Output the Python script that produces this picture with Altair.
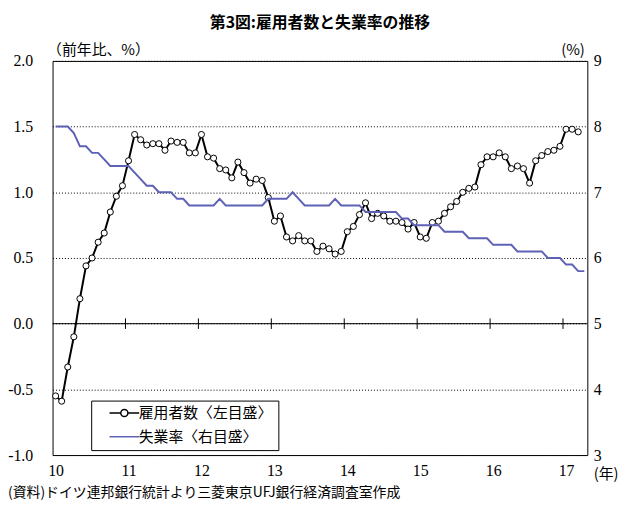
import json
import altair as alt
import pandas as pd

# ---------------- data ----------------
years = ["10", "11", "12", "13", "14", "15", "16", "17"]
year_unit = "(年)"

employment = [
    -0.55, -0.59, -0.33, -0.10, 0.19, 0.44, 0.50, 0.62, 0.69, 0.85, 0.97, 1.05,
    1.24, 1.44, 1.40, 1.36, 1.37, 1.37, 1.32, 1.39, 1.38, 1.38, 1.30, 1.30,
    1.44, 1.27, 1.26, 1.18, 1.17, 1.11, 1.23, 1.15, 1.07, 1.10, 1.09, 0.96,
    0.78, 0.82, 0.66, 0.63, 0.67, 0.63, 0.63, 0.55, 0.59, 0.57, 0.53, 0.55,
    0.70, 0.74, 0.83, 0.92, 0.80, 0.84, 0.82, 0.78, 0.78, 0.77, 0.72, 0.77,
    0.66, 0.65, 0.77, 0.78, 0.84, 0.89, 0.93, 1.00, 1.03, 1.04, 1.21, 1.27,
    1.27, 1.30, 1.27, 1.18, 1.20, 1.18, 1.07, 1.24, 1.28, 1.31, 1.32, 1.35,
    1.48, 1.48, 1.46,
]

unemployment = [
    8.0, 8.0, 8.0, 7.9, 7.7, 7.7, 7.6, 7.6, 7.5, 7.4, 7.4, 7.4,
    7.4, 7.3, 7.2, 7.1, 7.1, 7.0, 7.0, 7.0, 6.9, 6.9, 6.8, 6.8,
    6.8, 6.8, 6.8, 6.9, 6.8, 6.8, 6.8, 6.8, 6.8, 6.8, 6.8, 6.9,
    6.9, 6.9, 6.9, 7.0, 6.9, 6.8, 6.8, 6.8, 6.8, 6.8, 6.9, 6.8,
    6.8, 6.8, 6.8, 6.7, 6.7, 6.7, 6.7, 6.7, 6.7, 6.6, 6.6, 6.5,
    6.5, 6.5, 6.5, 6.5, 6.4, 6.4, 6.4, 6.4, 6.3, 6.3, 6.3, 6.3,
    6.2, 6.2, 6.2, 6.2, 6.1, 6.1, 6.1, 6.1, 6.1, 6.0, 6.0, 6.0,
    5.9, 5.9, 5.8, 5.8,
]

series_names = ["雇用者数〈左目盛〉", "失業率〈右目盛〉"]
title_text = "第3図:雇用者数と失業率の推移"
left_title = "（前年比、%）"
right_title = "(%)"
note_text = "(資料)ドイツ連邦銀行統計より三菱東京UFJ銀行経済調査室作成"
left_ticks = [-1.0, -0.5, 0.0, 0.5, 1.0, 1.5, 2.0]
right_ticks = [3, 4, 5, 6, 7, 8, 9]

# ---------------- styling ----------------
JP = "Noto Sans CJK JP"
SERIF = "Liberation Serif"
BLUE = "#5d62b6"
W, H = 540, 398

n_slots = len(unemployment)
x_dom = [-0.5, n_slots - 0.5]
x_scale = alt.Scale(domain=x_dom, nice=False, zero=False)
yl_scale = alt.Scale(domain=[left_ticks[0], left_ticks[-1]], nice=False, zero=False)
yr_scale = alt.Scale(domain=[right_ticks[0], right_ticks[-1]], nice=False, zero=False)

emp_df = pd.DataFrame({"t": list(range(len(employment))), "v": employment})
une_df = pd.DataFrame({"t": list(range(len(unemployment))), "v": unemployment})
tick_df = pd.DataFrame({"t": [12 * k - 0.5 for k in range(1, len(years))],
                        "lo": -0.04, "hi": 0.04})
zero_df = pd.DataFrame({"v": [0.0]})
legend_df = pd.DataFrame({"series": series_names})
note_df = pd.DataFrame({"note": [note_text]})

year_label_expr = json.dumps(years) + "[round(datum.value / 12)]"

x_axis = alt.Axis(
    values=[12 * k for k in range(len(years))],
    labelExpr=year_label_expr,
    title=year_unit,
    titleAngle=0,
    titleX=546,
    titleY=19,
    titleAlign="left",
    titleBaseline="middle",
    titleFont=JP,
    titleFontSize=15,
    titleFontWeight="normal",
    labelFont=SERIF,
    labelFontSize=16,
    labelPadding=8,
    ticks=False,
    domain=False,
    grid=False,
)

left_axis = alt.Axis(
    values=left_ticks,
    labelExpr="(datum.value < 0 ? '-' : '') + format(abs(datum.value), '.1f')",
    title=left_title,
    titleAngle=0,
    titleX=-6,
    titleY=-11,
    titleAlign="left",
    titleBaseline="middle",
    titleFont=JP,
    titleFontSize=15,
    titleFontWeight="normal",
    labelFont=SERIF,
    labelFontSize=16,
    labelPadding=20,
    ticks=False,
    domain=False,
    grid=True,
    gridColor="#000000",
    gridDash=[1, 2],
    gridWidth=1,
)

right_axis = alt.Axis(
    values=right_ticks,
    format="d",
    orient="right",
    title=right_title,
    titleAngle=0,
    titleX=-3,
    titleY=-11,
    titleAlign="right",
    titleBaseline="middle",
    titleFont=JP,
    titleFontSize=15,
    titleFontWeight="normal",
    labelFont=SERIF,
    labelFontSize=16,
    labelPadding=6,
    ticks=False,
    domain=False,
    grid=False,
)

# legend symbols: line with an open circle / plain line (unit path coords)
emp_symbol = "M-2.5,0L-0.6,0M0.6,0L2.5,0M-0.6,0A0.6,0.6,0,1,0,0.6,0A0.6,0.6,0,1,0,-0.6,0Z"
une_symbol = "M-2.5,0L2.5,0"

legend = alt.Legend(
    orient="none",
    legendX=39,
    legendY=343,
    title=None,
    direction="vertical",
    padding=5,
    symbolOffset=21,
    labelOffset=7,
    symbolSize=144,
    symbolStrokeWidth=1.5,
    symbolOpacity=1,
    strokeColor="#000000",
    fillColor="#ffffff",
    labelFont=JP,
    labelFontSize=15,
    labelColor="#000000",
    rowPadding=8,
    labelLimit=0,
)

X = alt.X("t:Q", scale=x_scale, axis=x_axis)
YL = alt.Y("v:Q", scale=yl_scale, axis=left_axis)

# ---------------- left-scale layers ----------------
emp_line = alt.Chart(emp_df).mark_line(color="#000000", strokeWidth=2).encode(x=X, y=YL)

emp_pts = alt.Chart(emp_df).mark_point(
    shape="circle", filled=True, fill="#ffffff", stroke="#000000",
    strokeWidth=1, size=38, opacity=1
).encode(x=X, y=YL)

zero_rule = alt.Chart(zero_df).mark_rule(color="#000000", strokeWidth=1).encode(y=YL)

year_ticks = alt.Chart(tick_df).mark_rule(color="#000000", strokeWidth=1).encode(
    x=X,
    y=alt.Y("lo:Q", scale=yl_scale, axis=left_axis),
    y2="hi:Q",
)

legend_layer = alt.Chart(legend_df).mark_point(
    filled=False, fill="#ffffff", opacity=0, strokeWidth=1.5
).encode(
    stroke=alt.Stroke(
        "series:N",
        scale=alt.Scale(domain=series_names, range=["#000000", BLUE]),
        legend=legend,
    ),
    shape=alt.Shape(
        "series:N",
        scale=alt.Scale(domain=series_names, range=[emp_symbol, une_symbol]),
        legend=legend,
    ),
)

note_layer = alt.Chart(note_df).mark_text(
    align="left", baseline="middle", font=JP, fontSize=14, color="#000000"
).encode(
    x=alt.value(-45),
    y=alt.value(H + 38),
    text="note:N",
)

left_group = alt.layer(emp_line, emp_pts, zero_rule, year_ticks, legend_layer, note_layer)

# ---------------- right-scale layer ----------------
une_line = alt.Chart(une_df).mark_line(color=BLUE, strokeWidth=2).encode(
    x=X,
    y=alt.Y("v:Q", scale=yr_scale, axis=right_axis),
)

chart = (
    alt.layer(left_group, une_line)
    .resolve_scale(y="independent")
    .properties(
        width=W,
        height=H,
        autosize=alt.AutoSizeParams(type="none"),
        padding={"left": 45, "top": 51, "right": 33, "bottom": 48},
        title=alt.TitleParams(
            text=title_text,
            font=JP,
            fontSize=16,
            fontWeight="bold",
            anchor="middle",
            color="#000000",
            offset=12,
        ),
    )
    .configure_view(stroke="#000000", strokeWidth=1)
    .configure_axis(labelColor="#000000", titleColor="#000000")
)

chart.save("out.html", embed_options={"renderer": "svg", "actions": False})
